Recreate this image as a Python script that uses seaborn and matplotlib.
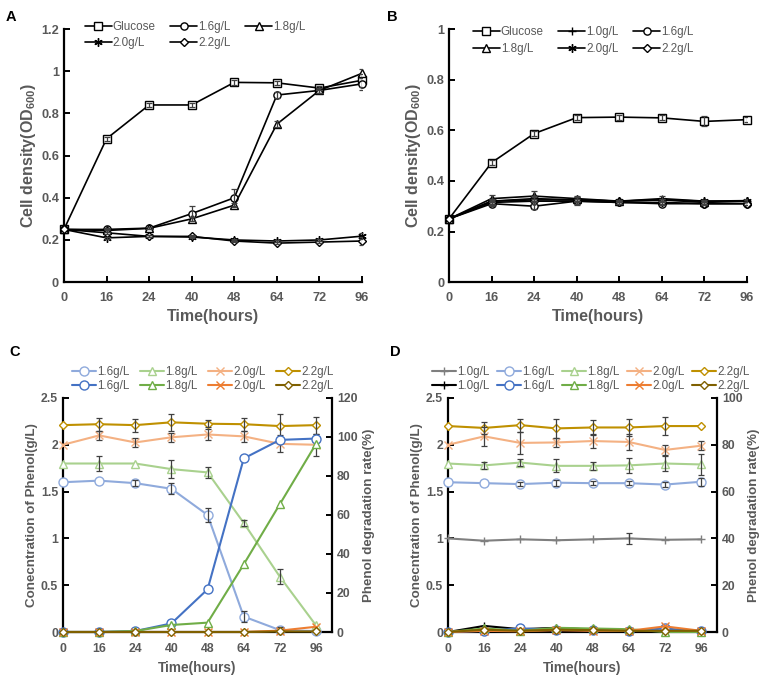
import matplotlib
matplotlib.use("Agg")
import matplotlib.pyplot as plt
import numpy as np
import pandas as pd
import seaborn as sns

hours = ["0", "16", "24", "40", "48", "64", "72", "96"]

# Panel A: cell density (OD600)
a_labels = ["Glucose", "1.6g/L", "1.8g/L", "2.0g/L", "2.2g/L"]
a_glucose = [0.25, 0.68, 0.84, 0.84, 0.947, 0.945, 0.92, 0.957]
a_16 = [0.25, 0.25, 0.256, 0.325, 0.40, 0.887, 0.909, 0.94]
a_18 = [0.25, 0.245, 0.255, 0.30, 0.365, 0.749, 0.909, 0.99]
a_20 = [0.25, 0.21, 0.217, 0.214, 0.20, 0.195, 0.20, 0.218]
a_22 = [0.25, 0.234, 0.217, 0.217, 0.195, 0.185, 0.19, 0.195]
a_err_glucose = [0.0, 0.01, 0.01, 0.01, 0.01, 0.01, 0.01, 0.03]
a_err_16 = [0.0, 0.005, 0.005, 0.035, 0.04, 0.015, 0.01, 0.03]
a_err_18 = [0.0, 0.005, 0.005, 0.01, 0.01, 0.015, 0.01, 0.02]
a_err_20 = [0.0, 0.005, 0.005, 0.005, 0.005, 0.005, 0.005, 0.015]
a_err_22 = [0.0, 0.005, 0.005, 0.005, 0.005, 0.005, 0.005, 0.02]

# Panel B: cell density (OD600)
b_labels = ["Glucose", "1.0g/L", "1.6g/L", "1.8g/L", "2.0g/L", "2.2g/L"]
b_glucose = [0.25, 0.472, 0.587, 0.65, 0.652, 0.649, 0.635, 0.642]
b_10 = [0.25, 0.32, 0.325, 0.325, 0.32, 0.33, 0.32, 0.322]
b_16 = [0.25, 0.31, 0.30, 0.32, 0.315, 0.31, 0.31, 0.31]
b_18 = [0.25, 0.33, 0.34, 0.33, 0.32, 0.325, 0.315, 0.32]
b_20 = [0.25, 0.32, 0.33, 0.325, 0.32, 0.325, 0.32, 0.32]
b_22 = [0.25, 0.315, 0.32, 0.32, 0.315, 0.315, 0.31, 0.31]
b_err_glucose = [0.0, 0.01, 0.01, 0.01, 0.01, 0.01, 0.02, 0.01]
b_err_10 = [0.0, 0.01, 0.01, 0.01, 0.005, 0.01, 0.005, 0.005]
b_err_16 = [0.0, 0.01, 0.01, 0.015, 0.005, 0.005, 0.005, 0.005]
b_err_18 = [0.0, 0.015, 0.02, 0.01, 0.005, 0.005, 0.005, 0.005]
b_err_20 = [0.0, 0.01, 0.01, 0.01, 0.005, 0.005, 0.005, 0.005]
b_err_22 = [0.0, 0.01, 0.01, 0.01, 0.005, 0.005, 0.005, 0.005]

# Panel C: phenol concentration (g/L, left) and degradation rate (%, right)
c_labels = ["1.6g/L", "1.8g/L", "2.0g/L", "2.2g/L"]
c_conc_16 = [1.60, 1.617, 1.59, 1.53, 1.25, 0.165, 0.02, 0.01]
c_conc_18 = [1.80, 1.80, 1.80, 1.74, 1.705, 1.165, 0.59, 0.07]
c_conc_20 = [2.00, 2.10, 2.025, 2.08, 2.11, 2.09, 2.01, 2.00]
c_conc_22 = [2.21, 2.22, 2.21, 2.24, 2.225, 2.22, 2.20, 2.21]
c_err_16 = [0.0, 0.0, 0.03, 0.06, 0.07, 0.06, 0.03, 0.0]
c_err_18 = [0.0, 0.08, 0.0, 0.10, 0.06, 0.03, 0.08, 0.0]
c_err_20 = [0.0, 0.05, 0.05, 0.05, 0.06, 0.06, 0.09, 0.12]
c_err_22 = [0.0, 0.07, 0.07, 0.09, 0.04, 0.07, 0.13, 0.09]
c_rate_16 = [0.0, 0.0, 0.5, 4.4, 21.9, 89.0, 98.5, 99.2]
c_rate_18 = [0.0, 0.0, 0.5, 3.6, 4.8, 34.7, 65.6, 96.5]
c_rate_20 = [0.0, 0.0, 0.0, 0.0, 0.0, 0.0, 0.7, 2.7]
c_rate_22 = [0.0, 0.0, 0.0, 0.0, 0.0, 0.0, 0.3, 0.3]

# Panel D: phenol concentration (g/L, left) and degradation rate (%, right)
d_labels = ["1.0g/L", "1.6g/L", "1.8g/L", "2.0g/L", "2.2g/L"]
d_conc_10 = [1.00, 0.975, 0.99, 0.98, 0.99, 1.00, 0.985, 0.99]
d_conc_16 = [1.60, 1.59, 1.58, 1.595, 1.59, 1.59, 1.575, 1.605]
d_conc_18 = [1.80, 1.78, 1.81, 1.775, 1.775, 1.78, 1.80, 1.79]
d_conc_20 = [2.00, 2.09, 2.02, 2.025, 2.04, 2.03, 1.945, 1.99]
d_conc_22 = [2.20, 2.18, 2.21, 2.175, 2.185, 2.185, 2.20, 2.20]
d_err_10 = [0.0, 0.0, 0.0, 0.0, 0.0, 0.06, 0.0, 0.0]
d_err_16 = [0.0, 0.0, 0.02, 0.03, 0.02, 0.02, 0.03, 0.04]
d_err_18 = [0.0, 0.04, 0.04, 0.07, 0.04, 0.08, 0.08, 0.11]
d_err_20 = [0.0, 0.10, 0.12, 0.05, 0.07, 0.09, 0.05, 0.05]
d_err_22 = [0.0, 0.06, 0.07, 0.10, 0.08, 0.09, 0.10, 0.0]
d_rate_10 = [0.0, 2.6, 1.2, 1.8, 1.0, 0.5, 0.3, 0.5]
d_rate_16 = [0.0, 0.5, 1.5, 1.0, 0.8, 0.5, 1.5, 0.3]
d_rate_18 = [0.0, 1.5, 0.5, 1.8, 1.5, 1.2, 0.0, 0.0]
d_rate_20 = [0.0, 0.5, 0.3, 0.8, 0.5, 0.5, 2.4, 0.5]
d_rate_22 = [0.0, 1.0, 0.5, 1.0, 0.8, 0.5, 0.5, 0.5]

GRAY = "#595959"
ERR = "#404040"

sns.set_style("ticks")
plt.rcParams["font.family"] = ["Liberation Sans", "DejaVu Sans"]
plt.rcParams["mathtext.fontset"] = "custom"
plt.rcParams["mathtext.rm"] = "Liberation Sans:bold"
plt.rcParams["mathtext.default"] = "rm"

pos = np.arange(len(hours))


def draw_series(ax, values, err, color, marker, label, ms=5.5, lw=1.3, mfc="white"):
    """Draw one series with seaborn and add its error bars; return the line."""
    df = pd.DataFrame({"x": pos, "y": values})
    sns.lineplot(
        data=df, x="x", y="y", ax=ax, color=color, marker=marker,
        markersize=ms, markerfacecolor=mfc, markeredgecolor=color,
        markeredgewidth=1.0, linewidth=lw, label=label, legend=False,
        clip_on=False, zorder=3,
    )
    line = ax.lines[-1]
    if err is not None:
        e = np.asarray(err)
        m = e > 0
        ax.errorbar(pos[m], np.asarray(values)[m], yerr=e[m], fmt="none",
                    ecolor=ERR, elinewidth=0.9, capsize=2.5, capthick=0.9, zorder=4)
    return line


def style_axis(ax, ylim, yticks, yticklabels, ylabel, xmax, fs_tick, fs_lab,
               side="left", labelpad=2):
    ax.set_xlim(0, xmax)
    ax.set_ylim(*ylim)
    ax.set_yticks(yticks)
    ax.set_yticklabels(yticklabels, color=GRAY, fontweight="bold", fontsize=fs_tick)
    ax.set_ylabel(ylabel, color=GRAY, fontweight="bold", fontsize=fs_lab,
                  labelpad=labelpad)
    for s in ["top", "right", "left", "bottom"]:
        ax.spines[s].set_visible(False)
    ax.spines[side].set_visible(True)
    ax.spines[side].set_color("black")
    ax.spines[side].set_linewidth(1.6)


def style_x(ax, xmax, fs_tick, fs_lab):
    ax.set_xlim(0, xmax)
    ax.set_xticks(pos)
    ax.set_xticklabels(hours, color=GRAY, fontweight="bold", fontsize=fs_tick)
    ax.set_xlabel("Time(hours)", color=GRAY, fontweight="bold", fontsize=fs_lab,
                  labelpad=4)
    ax.spines["bottom"].set_visible(True)
    ax.spines["bottom"].set_color("black")
    ax.spines["bottom"].set_linewidth(1.6)


fig = plt.figure(figsize=(7.67, 6.75), dpi=100)
axA = fig.add_axes([0.0834, 0.582, 0.3886, 0.375])
axB = fig.add_axes([0.5854, 0.582, 0.3886, 0.375])
axC = fig.add_axes([0.0821, 0.0637, 0.3507, 0.3467])
axD = fig.add_axes([0.5841, 0.0637, 0.3507, 0.3467])

legend_kw = dict(frameon=False, fontsize=8.4, labelcolor=GRAY,
                 handletextpad=0.1, loc="upper left", borderaxespad=0)

# ---- Panel A
od_label = r"Cell density(OD$_{600}$)"
a_vals = [a_glucose, a_16, a_18, a_20, a_22]
a_errs = [a_err_glucose, a_err_16, a_err_18, a_err_20, a_err_22]
a_marks = ["s", "o", "^", (6, 2, 0), "D"]
a_sizes = [6.2, 5.2, 5.2, 6, 4]
hA = [draw_series(axA, v, e, "black", m, l, ms=s, lw=1.2)
      for v, e, m, l, s in zip(a_vals, a_errs, a_marks, a_labels, a_sizes)]
style_axis(axA, (0, 1.2), np.arange(0, 1.21, 0.2),
           ["0", "0.2", "0.4", "0.6", "0.8", "1", "1.2"], od_label, 7, 9.2, 11.5)
style_x(axA, 7, 9.2, 11.5)
axA.tick_params(axis="both", direction="in", length=4, width=1.4, color="black")
axA.tick_params(axis="x", pad=7)
order = [0, 3, 1, 4, 2]
axA.legend([hA[i] for i in order], [a_labels[i] for i in order], ncol=3,
           handlelength=2.3, columnspacing=1.25, labelspacing=0.35,
           bbox_to_anchor=(0.054, 1.05), **legend_kw)

# ---- Panel B
b_vals = [b_glucose, b_10, b_16, b_18, b_20, b_22]
b_errs = [b_err_glucose, b_err_10, b_err_16, b_err_18, b_err_20, b_err_22]
b_marks = ["s", "+", "o", "^", (6, 2, 0), "D"]
b_sizes = [6.2, 6, 5.2, 5.2, 6, 4]
hB = [draw_series(axB, v, e, "black", m, l, ms=s, lw=1.2)
      for v, e, m, l, s in zip(b_vals, b_errs, b_marks, b_labels, b_sizes)]
style_axis(axB, (0, 1.0), np.arange(0, 1.01, 0.2),
           ["0", "0.2", "0.4", "0.6", "0.8", "1"], od_label, 7, 9.2, 11.5)
style_x(axB, 7, 9.2, 11.5)
axB.tick_params(axis="both", direction="in", length=4, width=1.4, color="black")
axB.tick_params(axis="x", pad=7)
order = [0, 3, 1, 4, 2, 5]
axB.legend([hB[i] for i in order], [b_labels[i] for i in order], ncol=3,
           handlelength=2.3, columnspacing=1.25, labelspacing=0.4,
           bbox_to_anchor=(0.064, 1.03), **legend_kw)

# ---- Panels C and D (twin axes)
light = {"1.0g/L": "#7F7F7F", "1.6g/L": "#8FAADC", "1.8g/L": "#A9D18E",
         "2.0g/L": "#F4B183", "2.2g/L": "#BF9000"}
dark = {"1.0g/L": "#000000", "1.6g/L": "#4472C4", "1.8g/L": "#70AD47",
        "2.0g/L": "#ED7D31", "2.2g/L": "#7F6000"}
marks = {"1.0g/L": "+", "1.6g/L": "o", "1.8g/L": "^", "2.0g/L": "x", "2.2g/L": "D"}
sizes = {"1.0g/L": 6, "1.6g/L": 6.5, "1.8g/L": 6, "2.0g/L": 5.5, "2.2g/L": 4}


def phenol_panel(ax, labels, concs, errs, rates, rate_max, rate_step, bbox, colsp):
    ax2 = ax.twinx()
    lh, dh = [], []
    for lab, c, e in zip(labels, concs, errs):
        lh.append(draw_series(ax, c, e, light[lab], marks[lab], lab,
                              ms=sizes[lab], lw=1.5))
    for lab, r in zip(labels, rates):
        dh.append(draw_series(ax2, r, None, dark[lab], marks[lab], lab,
                              ms=sizes[lab], lw=1.5))
    xmax = 7.44
    style_axis(ax, (0, 2.5), np.arange(0, 2.51, 0.5),
               ["0", "0.5", "1", "1.5", "2", "2.5"],
               "Conecntration of Phenol(g/L)", xmax, 8.8, 9.6)
    style_x(ax, xmax, 8.8, 9.8)
    rt = np.arange(0, rate_max + 0.1, rate_step)
    style_axis(ax2, (0, rate_max), rt, [f"{int(v)}" for v in rt],
               "Phenol degradation rate(%)", xmax, 8.8, 9.6, side="right",
               labelpad=4)
    ax2.spines["bottom"].set_visible(False)
    ax.tick_params(axis="y", direction="in", length=4, width=1.4, color="black")
    ax.tick_params(axis="x", length=0, pad=8)
    ax2.tick_params(axis="y", direction="in", length=4, width=1.4, color="black")
    handles, names = [], []
    for a, b, lab in zip(lh, dh, labels):
        handles += [a, b]
        names += [lab, lab]
    ax2.legend(handles, names, ncol=len(labels), handlelength=2.1,
               columnspacing=colsp, labelspacing=0.12,
               bbox_to_anchor=bbox, **legend_kw)
    return ax2


phenol_panel(axC, c_labels,
             [c_conc_16, c_conc_18, c_conc_20, c_conc_22],
             [c_err_16, c_err_18, c_err_20, c_err_22],
             [c_rate_16, c_rate_18, c_rate_20, c_rate_22],
             120, 20, (0.015, 1.155), 0.85)
phenol_panel(axD, d_labels,
             [d_conc_10, d_conc_16, d_conc_18, d_conc_20, d_conc_22],
             [d_err_10, d_err_16, d_err_18, d_err_20, d_err_22],
             [d_rate_10, d_rate_16, d_rate_18, d_rate_20, d_rate_22],
             100, 20, (-0.078, 1.155), 0.6)

for letter, x, y in [("A", 0.008, 0.975), ("B", 0.505, 0.975),
                     ("C", 0.012, 0.478), ("D", 0.508, 0.478)]:
    fig.text(x, y, letter, fontsize=10.5, fontweight="bold", color="black",
             ha="left", va="center")

fig.savefig("out.png", dpi=100)
